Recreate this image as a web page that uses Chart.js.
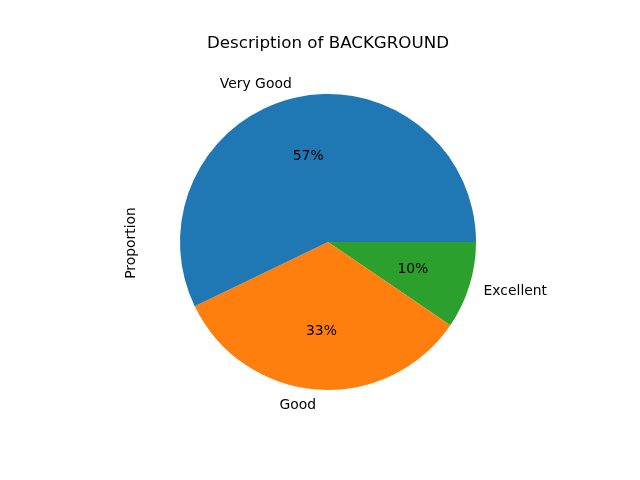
<!DOCTYPE html>
<html>
<head>
<meta charset="utf-8">
<script src="https://cdn.jsdelivr.net/npm/chart.js@4"></script>
<style>
  html, body { margin: 0; padding: 0; background: #fff; }
  #wrap { width: 640px; height: 480px; }
</style>
</head>
<body>
<div id="wrap"><canvas id="pie" width="640" height="480"></canvas></div>
<script>
// Slices as matplotlib ordered them (counter-clockwise from 3 o'clock)
var categories = ['Very Good', 'Good', 'Excellent'];
var proportions = [0.571, 0.333, 0.095];
var sliceColors = ['#1f77b4', '#ff7f0e', '#2ca02c'];
var titleText = 'Description of BACKGROUND';
var yLabel = 'Proportion';

// Chart.js goes clockwise, so feed it reversed and start at 3 o'clock
var cwLabels = categories.slice().reverse();
var cwValues = proportions.slice().reverse();
var cwColors = sliceColors.slice().reverse();

var FONT = '"DejaVu Sans", sans-serif';

var pieText = {
  id: 'pieText',
  afterDatasetsDraw: function(chart) {
    var ctx = chart.ctx;
    var meta = chart.getDatasetMeta(0);
    var total = cwValues.reduce(function(a, b) { return a + b; }, 0);
    ctx.save();
    ctx.fillStyle = '#000';
    ctx.textBaseline = 'middle';
    meta.data.forEach(function(arc, i) {
      var mid = (arc.startAngle + arc.endAngle) / 2;
      var r = arc.outerRadius;
      var c = Math.cos(mid), s = Math.sin(mid);
      // outer category label
      ctx.font = '13.9px ' + FONT;
      ctx.textAlign = c > 0 ? 'left' : 'right';
      ctx.fillText(cwLabels[i], arc.x + c * r * 1.1, arc.y + s * r * 1.1 + 1);
      // percentage inside
      ctx.textAlign = 'center';
      var pct = Math.round(cwValues[i] / total * 100) + '%';
      ctx.fillText(pct, arc.x + c * r * 0.6, arc.y + s * r * 0.6 + 1);
    });
    // title
    ctx.font = '16.7px ' + FONT;
    ctx.textAlign = 'center';
    ctx.fillText(titleText, 328, 44);
    // y label
    ctx.font = '13.9px ' + FONT;
    ctx.translate(131, 243);
    ctx.rotate(-Math.PI / 2);
    ctx.fillText(yLabel, 0, 0);
    ctx.restore();
  }
};

new Chart(document.getElementById('pie').getContext('2d'), {
  type: 'pie',
  data: {
    labels: cwLabels,
    datasets: [{
      data: cwValues,
      backgroundColor: cwColors,
      borderWidth: 0,
      hoverOffset: 0
    }]
  },
  options: {
    responsive: false,
    animation: false,
    rotation: 90,
    layout: { padding: { left: 180, right: 164, top: 94, bottom: 90 } },
    plugins: {
      legend: { display: false },
      title: { display: false },
      tooltip: { enabled: false }
    }
  },
  plugins: [pieText]
});
</script>
</body>
</html>
